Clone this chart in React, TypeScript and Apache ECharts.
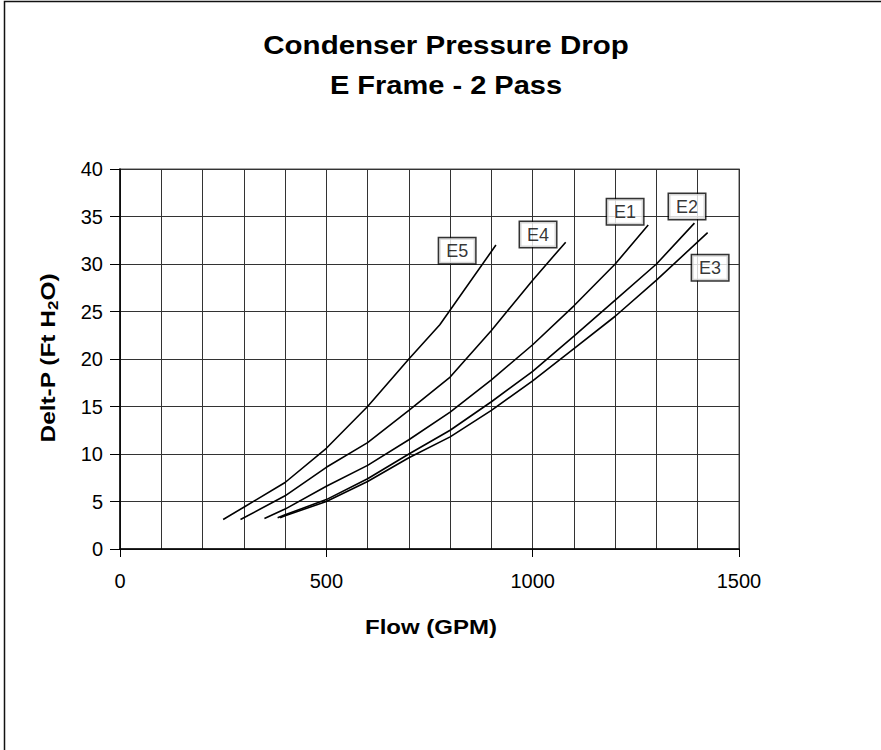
import React, { useEffect, useRef } from 'react';
import * as echarts from 'echarts';

// ---- Data ----
const flowE1 = [350, 400, 500, 600, 700, 800, 900, 1000, 1100, 1200, 1280];
const dpE1 = [3.2, 4.2, 6.6, 8.8, 11.5, 14.4, 17.8, 21.5, 25.6, 30.0, 34.1];

const flowE2 = [382, 400, 500, 600, 700, 800, 900, 1000, 1100, 1200, 1300, 1392];
const dpE2 = [3.3, 3.6, 5.2, 7.4, 10.0, 12.5, 15.5, 18.7, 22.4, 26.2, 30.0, 34.3];

const flowE3 = [388, 400, 500, 600, 700, 800, 900, 1000, 1100, 1200, 1300, 1424];
const dpE3 = [3.3, 3.5, 5.0, 7.1, 9.6, 11.8, 14.6, 17.7, 21.1, 24.5, 28.3, 33.3];

const flowE4 = [292, 400, 500, 600, 700, 800, 900, 1000, 1080];
const dpE4 = [3.1, 5.6, 8.6, 11.2, 14.6, 18.1, 23.0, 28.3, 32.3];

const flowE5 = [250, 300, 400, 500, 600, 700, 775, 911];
const dpE5 = [3.1, 4.4, 7.0, 10.6, 15.0, 20.0, 23.6, 32.0];

const labelNames = ['E1', 'E2', 'E3', 'E4', 'E5'];
const labelFlow = [1224, 1374, 1430, 1013, 817];
const labelDp = [35.5, 36.05, 29.6, 33.1, 31.4];

const xTicks = [0, 500, 1000, 1500];
const yTicks = [0, 5, 10, 15, 20, 25, 30, 35, 40];

const titleLine1 = 'Condenser Pressure Drop';
const titleLine2 = 'E Frame - 2 Pass';
const xName = 'Flow (GPM)';

const FONT = '"Liberation Sans", Arial, Helvetica, sans-serif';

function pairs(xs: number[], ys: number[]) {
  return xs.map((x, i) => [x, ys[i]]);
}

export default function App() {
  const ref = useRef<HTMLDivElement>(null);
  useEffect(() => {
    if (!ref.current) return;
    const chart = echarts.init(ref.current, null, { renderer: 'svg' });
    const curves = [
      pairs(flowE1, dpE1),
      pairs(flowE2, dpE2),
      pairs(flowE3, dpE3),
      pairs(flowE4, dpE4),
      pairs(flowE5, dpE5),
    ];
    const lineSeries = curves.map((d, i) => ({
      type: 'line',
      name: labelNames[i],
      data: d,
      symbol: 'none',
      smooth: false,
      lineStyle: { color: '#000', width: 1.6 },
      z: 3,
      silent: true,
    }));
    chart.setOption({
      animation: false,
      backgroundColor: '#fff',
      grid: {
        left: 120,
        right: 142,
        top: 169,
        bottom: 201,
        show: true,
        borderColor: '#8a8a8a',
        borderWidth: 1.5,
        backgroundColor: 'transparent',
      },
      xAxis: {
        type: 'value',
        min: 0,
        max: 1500,
        interval: 500,
        axisLine: { show: true, onZero: false, lineStyle: { color: '#000', width: 1.5 } },
        axisTick: { show: true, length: 8, lineStyle: { color: '#000', width: 1 } },
        minorTick: { show: false, splitNumber: 5 },
        splitLine: { show: true, lineStyle: { color: '#333', width: 1 } },
        minorSplitLine: { show: true, lineStyle: { color: '#333', width: 1 } },
        axisLabel: {
          color: '#000',
          fontSize: 20,
          fontFamily: FONT,
          margin: 22,
          formatter: (v: number) => (xTicks.indexOf(v) >= 0 ? String(v) : ''),
        },
      },
      yAxis: {
        type: 'value',
        min: 0,
        max: 40,
        interval: 5,
        axisLine: { show: true, onZero: false, lineStyle: { color: '#000', width: 1.5 } },
        axisTick: { show: true, length: 10, lineStyle: { color: '#000', width: 1 } },
        splitLine: { show: true, lineStyle: { color: '#333', width: 1 } },
        axisLabel: {
          color: '#000',
          fontSize: 20,
          fontFamily: FONT,
          margin: 17,
          formatter: (v: number) => (yTicks.indexOf(v) >= 0 ? String(v) : ''),
        },
      },
      series: [
        ...lineSeries,
        {
          type: 'scatter',
          data: labelNames.map((n, i) => ({ name: n, value: [labelFlow[i], labelDp[i]] })),
          symbol: 'rect',
          symbolSize: 1,
          itemStyle: { color: 'rgba(0,0,0,0)' },
          silent: true,
          z: 5,
          label: {
            show: true,
            position: 'inside',
            formatter: '{b}',
            color: '#000',
            fontSize: 18,
            fontFamily: FONT,
            backgroundColor: '#fff',
            borderColor: '#000',
            borderWidth: 1.5,
            padding: [4, 7, 3, 7],
          },
        },
      ],
      graphic: [
        {
          type: 'rect',
          silent: true,
          z: -10,
          shape: { x: 4.5, y: 1.5, width: 1200, height: 1200 },
          style: { fill: 'none', stroke: '#111', lineWidth: 1.5 },
        },
        {
          type: 'text',
          x: 446,
          y: 45,
          scaleX: 1.18,
          silent: true,
          style: {
            text: titleLine1,
            fontSize: 25,
            fontWeight: 'bold',
            fontFamily: FONT,
            fill: '#000',
            textAlign: 'center',
            textVerticalAlign: 'middle',
          },
        },
        {
          type: 'text',
          x: 446,
          y: 85,
          scaleX: 1.16,
          silent: true,
          style: {
            text: titleLine2,
            fontSize: 25,
            fontWeight: 'bold',
            fontFamily: FONT,
            fill: '#000',
            textAlign: 'center',
            textVerticalAlign: 'middle',
          },
        },
        {
          type: 'text',
          x: 431,
          y: 627,
          scaleX: 1.2,
          silent: true,
          style: {
            text: xName,
            fontSize: 20,
            fontWeight: 'bold',
            fontFamily: FONT,
            fill: '#000',
            textAlign: 'center',
            textVerticalAlign: 'middle',
          },
        },
        {
          type: 'text',
          x: 48,
          y: 358,
          rotation: Math.PI / 2,
          scaleX: 1.22,
          silent: true,
          style: {
            text: '{a|Delt-P (Ft H}{s|2}{a|O)}',
            textAlign: 'center',
            textVerticalAlign: 'middle',
            fill: '#000',
            rich: {
              a: { fontSize: 20, fontWeight: 'bold', fontFamily: FONT, lineHeight: 24, verticalAlign: 'middle', fill: '#000', color: '#000' },
              s: { fontSize: 14, fontWeight: 'bold', fontFamily: FONT, lineHeight: 14, verticalAlign: 'bottom', fill: '#000', color: '#000' },
            },
          },
        },
      ],
    });
    return () => chart.dispose();
  }, []);
  return (
    <div
      ref={ref}
      style={{ position: 'fixed', left: 0, top: 0, width: 881, height: 750, background: '#fff' }}
    />
  );
}
